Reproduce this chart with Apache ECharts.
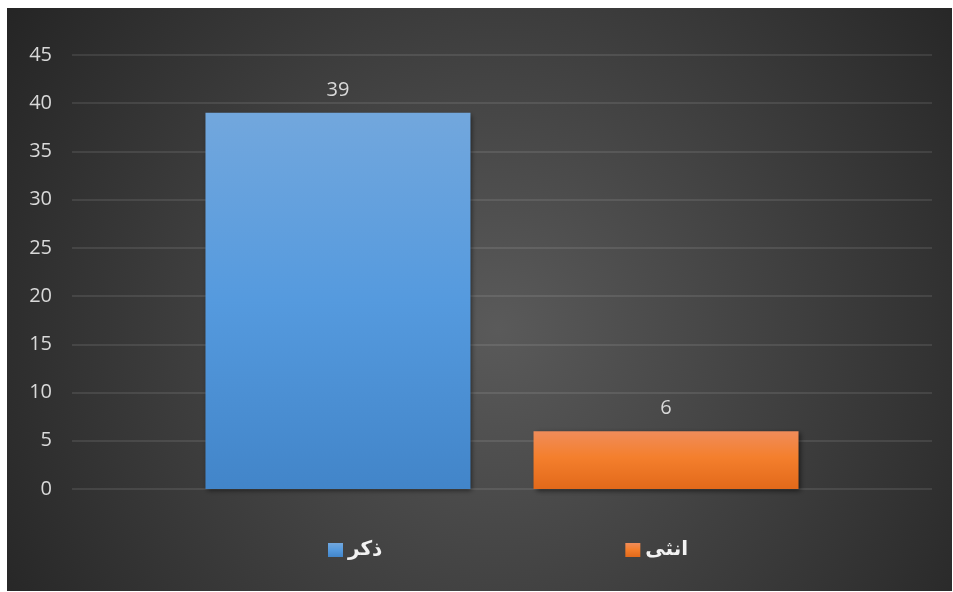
<!DOCTYPE html>
<html>
<head>
<meta charset="utf-8">
<script src="https://cdn.jsdelivr.net/npm/echarts@6/dist/echarts.min.js"></script>
<style>
html,body{margin:0;padding:0;background:#ffffff;}
#chart{position:absolute;left:7px;top:8px;width:945px;height:583px;}
</style>
</head>
<body>
<div id="chart"></div>
<script>
const categories = [''];
const seriesNames = ['ذكر', 'انثى'];
const maleValues = [39];
const femaleValues = [6];
const yTicks = [0, 5, 10, 15, 20, 25, 30, 35, 40, 45];

const chart = echarts.init(document.getElementById('chart'));
const labelStyle = { show: true, position: 'top', distance: 13, color: '#d9d9d9', fontSize: 20, fontFamily: 'Open Sans' };
const shadow = { shadowBlur: 5, shadowColor: 'rgba(0,0,0,0.55)', shadowOffsetX: 2, shadowOffsetY: 2 };

chart.setOption({
  backgroundColor: {
    type: 'radial', x: 0.52, y: 0.55, r: 1.0,
    colorStops: [{ offset: 0, color: '#5a5a5a' }, { offset: 1, color: '#252525' }]
  },
  animation: false,
  grid: { left: 65, right: 20, top: 47, bottom: 102, containLabel: false },
  legend: {
    data: seriesNames,
    top: 532,
    left: 321,
    padding: 0,
    itemWidth: 15,
    itemHeight: 14,
    itemGap: 243,
    icon: 'rect',
    textStyle: { color: '#f2f2f2', fontSize: 20, fontWeight: 'bold', fontFamily: 'DejaVu Sans' }
  },
  xAxis: {
    type: 'category',
    data: categories,
    axisLine: { show: false },
    axisTick: { show: false },
    axisLabel: { show: false }
  },
  yAxis: {
    type: 'value',
    min: yTicks[0],
    max: yTicks[yTicks.length - 1],
    interval: 5,
    axisLine: { show: false },
    axisTick: { show: false },
    axisLabel: { color: '#d9d9d9', fontSize: 20, fontFamily: 'Open Sans', margin: 20 },
    splitLine: { lineStyle: { color: 'rgba(255,255,255,0.13)', width: 1.5 } }
  },
  series: [
    {
      name: seriesNames[0],
      type: 'bar',
      data: maleValues,
      barWidth: 265,
      barGap: '23.8%',
      label: labelStyle,
      itemStyle: Object.assign({
        color: { type: 'linear', x: 0, y: 0, x2: 0, y2: 1,
          colorStops: [{ offset: 0, color: '#72a7dd' }, { offset: 0.5, color: '#559ade' }, { offset: 1, color: '#4285c9' }] }
      }, shadow)
    },
    {
      name: seriesNames[1],
      type: 'bar',
      data: femaleValues,
      barWidth: 265,
      label: labelStyle,
      itemStyle: Object.assign({
        color: { type: 'linear', x: 0, y: 0, x2: 0, y2: 1,
          colorStops: [{ offset: 0, color: '#f08c5a' }, { offset: 0.45, color: '#f47f2d' }, { offset: 1, color: '#e2691a' }] }
      }, shadow)
    }
  ]
});
</script>
</body>
</html>
